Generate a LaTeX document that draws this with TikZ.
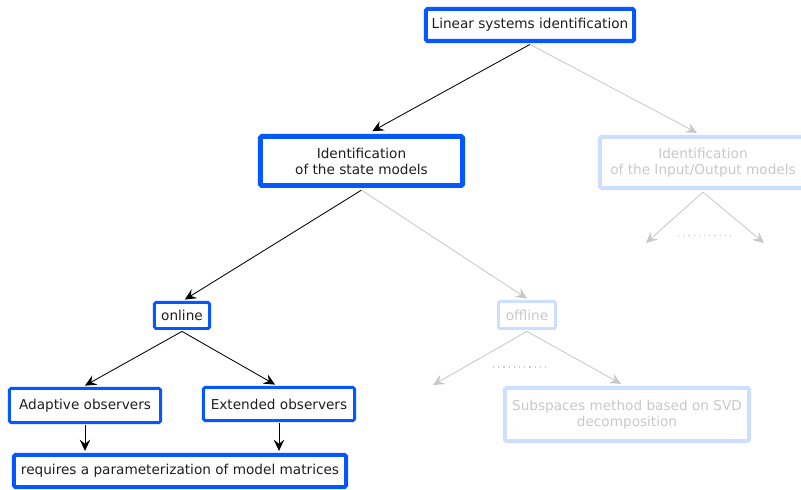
\documentclass[tikz,border=0pt]{standalone}
\usepackage{fontspec}
\setmainfont{DejaVu Sans}
\usetikzlibrary{
	arrows.meta,
	positioning
}
\definecolor{boxblue}{RGB}{5,88,255}
\definecolor{boxpale}{RGB}{206,222,255}
\definecolor{linepale}{RGB}{200,200,200}
\definecolor{textpale}{RGB}{200,200,200}
\definecolor{textdark}{RGB}{30,30,30}
\tikzset{
	box/.style={
		draw=boxblue,
		line width=2.13pt,
		rounded corners=1pt,
		inner sep=0pt,
		align=center,
		text=textdark,
		font=\fontsize{9.7}{11.4}\selectfont
	},
	palebox/.style={
		box,
		draw=boxpale,
		text=textpale
	},
	link/.style={
		-{Stealth[length=8pt,width=7.5pt,inset=3pt]},
		line width=0.6pt,
		black
	},
	palelink/.style={
		link,
		linepale
	},
	dots/.style={
		linepale,
		line width=0.8pt,
		dash pattern=on 0.8pt off 2.9pt
	}
}

\begin{document}
\begin{tikzpicture}[x=0.025cm,y=-0.025cm]
	\useasboundingbox (0,0) rectangle (801,490);
	% tree of boxes
	\node[box, line width=2.85pt, minimum width=5.2cm, minimum height=0.8cm] (linsys) at (530,25) {Linear systems identification};
	\node[box, line width=3.55pt, minimum width=5.05cm, minimum height=1.225cm] (state) at (361.5,161) {Identification\\of the state models};
	\node[palebox, line width=2.85pt, minimum width=5.15cm, minimum height=1.275cm] (inout) at (703,162.5) {Identification\\of the Input/Output models};
	\node[box, minimum width=1.375cm, minimum height=0.65cm] (online) at (182,315.5) {online};
	\node[palebox, minimum width=1.425cm, minimum height=0.675cm] (offline) at (527,315) {offline};
	\node[box, minimum width=3.775cm, minimum height=0.85cm] (adaptive) at (85,405.5) {Adaptive observers};
	\node[box, minimum width=3.775cm, minimum height=0.825cm] (extended) at (279,404) {Extended observers};
	\node[box, line width=2.85pt, minimum width=8.3cm, minimum height=0.8cm] (param) at (180,471) {requires a parameterization of model matrices};
	\node[palebox, line width=2.85pt, minimum width=6.1cm, minimum height=1.325cm] (subspace) at (627,414.5) {Subspaces method based on SVD\\decomposition};

	% open ends
	\coordinate (ioleft) at (646,243);
	\coordinate (ioright) at (764,243);
	\coordinate (offleft) at (433,385);

	% connectors
	\draw[link] ([yshift=-1pt]linsys.south) -- ([xshift=0.27cm,yshift=2pt]state.north);
	\draw[palelink] ([yshift=-1pt]linsys.south) -- ([xshift=-0.15cm,yshift=1.5pt]inout.north);
	\draw[link] ([yshift=-1.5pt]state.south) -- ([xshift=0.07cm,yshift=1pt]online.north);
	\draw[palelink] ([yshift=-1.5pt]state.south) -- ([yshift=1pt]offline.north);
	\draw[palelink] ([yshift=-1.5pt]inout.south) -- (ioleft);
	\draw[palelink] ([yshift=-1.5pt]inout.south) -- (ioright);
	\draw[link] ([yshift=-1pt]online.south) -- ([yshift=1pt]adaptive.north);
	\draw[link] ([yshift=-1pt]online.south) -- ([xshift=-0.1cm,yshift=1pt]extended.north);
	\draw[palelink] ([yshift=-1pt]offline.south) -- (offleft);
	\draw[palelink] ([yshift=-1pt]offline.south) -- ([xshift=-0.15cm,yshift=1.5pt]subspace.north);
	\draw[link] ([yshift=-1pt]adaptive.south) -- ([yshift=1.5pt]param.north -| adaptive.south);
	\draw[link] ([yshift=-1pt]extended.south) -- ([yshift=1.5pt]param.north -| extended.south);

	% elided branches
	\draw[dots] (678,235.5) -- (732,235.5);
	\draw[dots] (493,367) -- (547,367);
\end{tikzpicture}
\end{document}
